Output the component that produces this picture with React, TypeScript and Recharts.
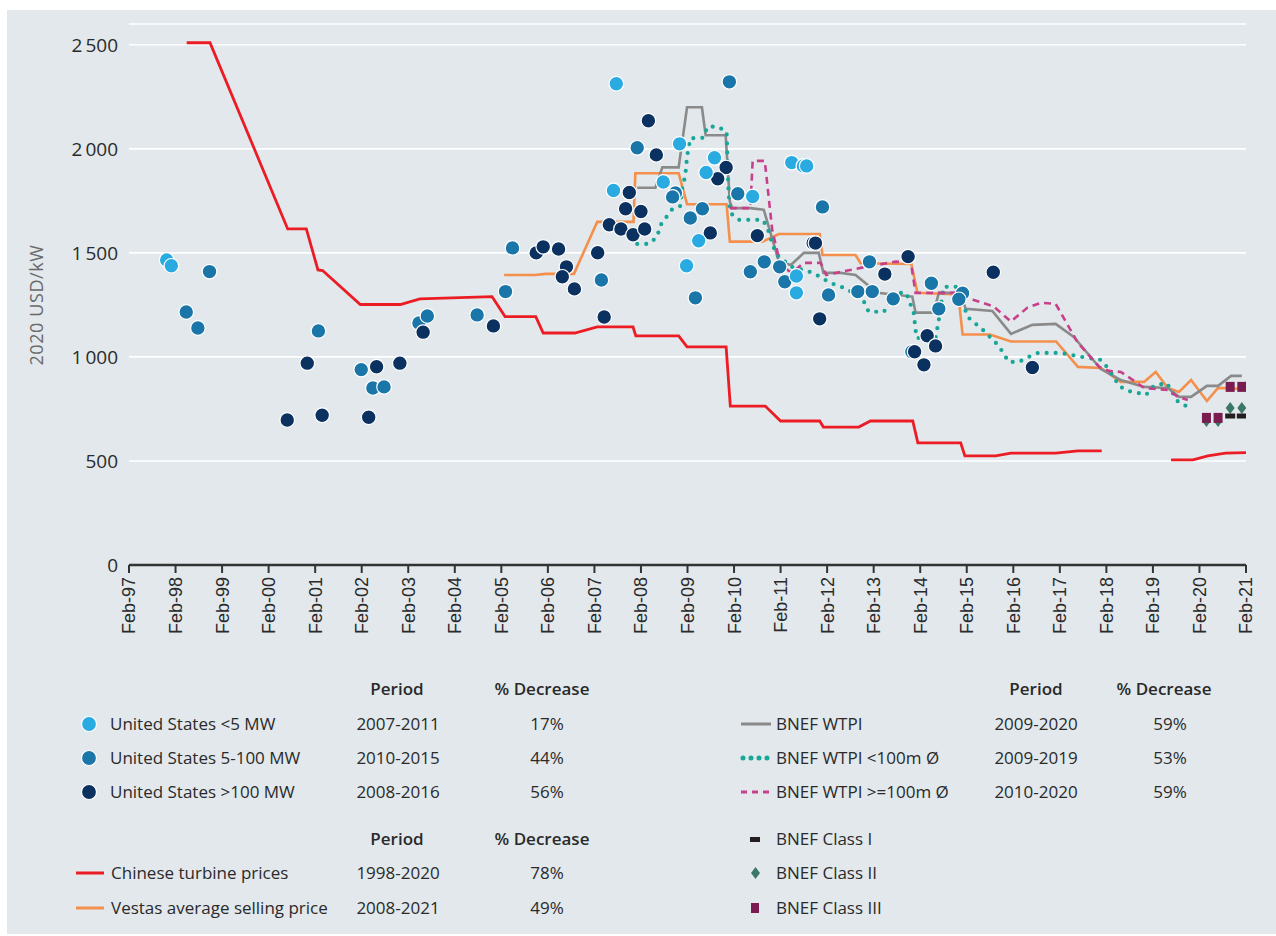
import { CartesianGrid, ComposedChart, Line, Scatter, XAxis, YAxis } from "recharts";

// x = year (Feb of that year = whole number), y = 2020 USD/kW
const yearTicks = [
  1997, 1998, 1999, 2000, 2001, 2002, 2003, 2004, 2005, 2006, 2007, 2008,
  2009, 2010, 2011, 2012, 2013, 2014, 2015, 2016, 2017, 2018, 2019, 2020, 2021,
];
const valueTicks = [0, 500, 1000, 1500, 2000, 2500];

const chinesePrices = [
  { x: 1998.24, y: 2510 }, { x: 1998.74, y: 2510 }, { x: 2000.41, y: 1615 },
  { x: 2000.81, y: 1615 }, { x: 2001.06, y: 1418 }, { x: 2001.16, y: 1415 },
  { x: 2001.97, y: 1252 }, { x: 2002.83, y: 1252 }, { x: 2003.25, y: 1279 },
  { x: 2004.8, y: 1290 }, { x: 2005.08, y: 1194 }, { x: 2005.74, y: 1194 },
  { x: 2005.9, y: 1115 }, { x: 2006.58, y: 1115 }, { x: 2007.06, y: 1144 },
  { x: 2007.83, y: 1144 }, { x: 2007.89, y: 1101 }, { x: 2008.81, y: 1101 },
  { x: 2008.99, y: 1048 }, { x: 2009.83, y: 1048 }, { x: 2009.92, y: 764 },
  { x: 2010.67, y: 764 }, { x: 2011.0, y: 692 }, { x: 2011.84, y: 692 },
  { x: 2011.92, y: 663 }, { x: 2012.68, y: 663 }, { x: 2012.93, y: 692 },
  { x: 2013.84, y: 692 }, { x: 2013.95, y: 587 }, { x: 2014.87, y: 587 },
  { x: 2014.96, y: 524 }, { x: 2015.62, y: 524 }, { x: 2015.95, y: 538 },
  { x: 2016.91, y: 538 }, { x: 2017.39, y: 548 }, { x: 2017.9, y: 548 },
  { x: 2018.6, y: null }, { x: 2019.39, y: 505 }, { x: 2019.86, y: 505 },
  { x: 2020.18, y: 524 }, { x: 2020.56, y: 538 }, { x: 2021.0, y: 540 },
];

const vestasPrices = [
  { x: 2005.06, y: 1394 }, { x: 2005.72, y: 1394 }, { x: 2005.95, y: 1399 },
  { x: 2006.56, y: 1399 }, { x: 2007.06, y: 1649 }, { x: 2007.84, y: 1649 },
  { x: 2007.88, y: 1883 }, { x: 2008.81, y: 1883 }, { x: 2008.99, y: 1734 },
  { x: 2009.84, y: 1734 }, { x: 2009.91, y: 1554 }, { x: 2010.61, y: 1554 },
  { x: 2010.96, y: 1591 }, { x: 2011.84, y: 1591 }, { x: 2011.9, y: 1490 },
  { x: 2012.61, y: 1490 }, { x: 2012.72, y: 1450 }, { x: 2013.81, y: 1447 },
  { x: 2013.94, y: 1308 }, { x: 2014.82, y: 1300 }, { x: 2014.91, y: 1108 },
  { x: 2015.5, y: 1108 }, { x: 2015.95, y: 1074 }, { x: 2016.92, y: 1074 },
  { x: 2017.39, y: 952 }, { x: 2017.88, y: 947 }, { x: 2018.31, y: 880 },
  { x: 2018.81, y: 880 }, { x: 2019.06, y: 928 }, { x: 2019.32, y: 851 },
  { x: 2019.56, y: 832 }, { x: 2019.82, y: 889 }, { x: 2020.16, y: 788 },
  { x: 2020.4, y: 851 }, { x: 2020.96, y: 846 }, { x: 2021.15, y: 962 },
];

const wtpi = [
  { x: 2007.92, y: 1813 }, { x: 2008.31, y: 1813 }, { x: 2008.46, y: 1911 },
  { x: 2008.81, y: 1911 }, { x: 2008.99, y: 2200 }, { x: 2009.31, y: 2200 },
  { x: 2009.39, y: 2065 }, { x: 2009.82, y: 2065 }, { x: 2009.91, y: 1746 },
  { x: 2009.96, y: 1715 }, { x: 2010.35, y: 1715 }, { x: 2010.64, y: 1707 },
  { x: 2010.89, y: 1514 }, { x: 2010.96, y: 1458 }, { x: 2011.22, y: 1442 },
  { x: 2011.5, y: 1500 }, { x: 2011.82, y: 1500 }, { x: 2011.92, y: 1404 },
  { x: 2012.29, y: 1404 }, { x: 2012.61, y: 1394 }, { x: 2013.08, y: 1308 },
  { x: 2013.83, y: 1290 }, { x: 2013.9, y: 1213 }, { x: 2014.29, y: 1213 },
  { x: 2014.4, y: 1308 }, { x: 2014.85, y: 1308 }, { x: 2014.98, y: 1231 },
  { x: 2015.55, y: 1221 }, { x: 2015.95, y: 1111 }, { x: 2016.41, y: 1154 },
  { x: 2016.91, y: 1159 }, { x: 2017.3, y: 1096 }, { x: 2017.88, y: 942 },
  { x: 2018.31, y: 889 }, { x: 2018.81, y: 856 }, { x: 2019.32, y: 851 },
  { x: 2019.56, y: 808 }, { x: 2019.82, y: 808 }, { x: 2020.16, y: 861 },
  { x: 2020.4, y: 861 }, { x: 2020.68, y: 909 }, { x: 2020.91, y: 909 },
];

const wtpiSmall = [
  { x: 2007.92, y: 1543 }, { x: 2008.17, y: 1543 }, { x: 2008.35, y: 1577 },
  { x: 2008.41, y: 1630 }, { x: 2008.66, y: 1707 }, { x: 2008.85, y: 1726 },
  { x: 2008.89, y: 1822 }, { x: 2008.95, y: 1865 }, { x: 2008.99, y: 1962 },
  { x: 2009.06, y: 2051 }, { x: 2009.34, y: 2053 }, { x: 2009.43, y: 2106 },
  { x: 2009.64, y: 2107 }, { x: 2009.84, y: 2083 }, { x: 2009.88, y: 1803 },
  { x: 2009.92, y: 1692 }, { x: 2010.1, y: 1659 }, { x: 2010.61, y: 1659 },
  { x: 2010.71, y: 1627 }, { x: 2010.84, y: 1530 }, { x: 2010.96, y: 1481 },
  { x: 2011.24, y: 1433 }, { x: 2011.7, y: 1404 }, { x: 2012.07, y: 1356 },
  { x: 2012.29, y: 1338 }, { x: 2012.46, y: 1322 }, { x: 2012.79, y: 1266 },
  { x: 2012.89, y: 1218 }, { x: 2013.22, y: 1216 }, { x: 2013.45, y: 1308 },
  { x: 2013.7, y: 1308 }, { x: 2013.86, y: 1212 }, { x: 2013.92, y: 1091 },
  { x: 2014.33, y: 1091 }, { x: 2014.4, y: 1178 }, { x: 2014.5, y: 1337 },
  { x: 2014.8, y: 1337 }, { x: 2015.02, y: 1192 }, { x: 2015.37, y: 1125 },
  { x: 2015.69, y: 1053 }, { x: 2015.9, y: 976 }, { x: 2016.12, y: 976 },
  { x: 2016.33, y: 1000 }, { x: 2016.53, y: 1019 }, { x: 2017.02, y: 1019 },
  { x: 2017.47, y: 1000 }, { x: 2017.88, y: 986 }, { x: 2018.03, y: 947 },
  { x: 2018.16, y: 904 }, { x: 2018.27, y: 861 }, { x: 2018.46, y: 837 },
  { x: 2018.68, y: 827 }, { x: 2018.85, y: 817 }, { x: 2019.02, y: 861 },
  { x: 2019.3, y: 875 }, { x: 2019.41, y: 832 }, { x: 2019.54, y: 784 },
  { x: 2019.75, y: 760 },
];

const wtpiLarge = [
  { x: 2009.91, y: 1715 }, { x: 2010.35, y: 1715 }, { x: 2010.4, y: 1942 },
  { x: 2010.66, y: 1942 }, { x: 2010.82, y: 1611 }, { x: 2011.0, y: 1440 },
  { x: 2011.24, y: 1404 }, { x: 2011.5, y: 1452 }, { x: 2011.86, y: 1452 },
  { x: 2011.98, y: 1394 }, { x: 2012.72, y: 1428 }, { x: 2013.47, y: 1458 },
  { x: 2013.8, y: 1453 }, { x: 2013.9, y: 1308 }, { x: 2014.8, y: 1308 },
  { x: 2015.15, y: 1274 }, { x: 2015.58, y: 1242 }, { x: 2015.95, y: 1170 },
  { x: 2016.3, y: 1236 }, { x: 2016.59, y: 1260 }, { x: 2016.91, y: 1255 },
  { x: 2017.39, y: 1067 }, { x: 2017.85, y: 952 }, { x: 2018.05, y: 933 },
  { x: 2018.31, y: 928 }, { x: 2018.57, y: 889 }, { x: 2018.81, y: 851 },
  { x: 2019.32, y: 841 }, { x: 2019.54, y: 808 }, { x: 2019.75, y: 793 },
];

const usSmall = [
  { x: 1997.81, y: 1466 }, { x: 1997.91, y: 1438 }, { x: 2007.47, y: 2313 },
  { x: 2007.41, y: 1800 }, { x: 2008.48, y: 1841 }, { x: 2008.83, y: 2024 },
  { x: 2008.98, y: 1438 }, { x: 2009.24, y: 1558 }, { x: 2009.4, y: 1886 },
  { x: 2009.58, y: 1957 }, { x: 2010.4, y: 1771 }, { x: 2011.24, y: 1934 },
  { x: 2011.34, y: 1389 }, { x: 2011.34, y: 1308 }, { x: 2011.49, y: 1918 },
  { x: 2011.56, y: 1918 },
];

const usMedium = [
  { x: 1998.73, y: 1410 }, { x: 1998.23, y: 1216 }, { x: 1998.48, y: 1139 },
  { x: 2001.07, y: 1125 }, { x: 2001.99, y: 939 }, { x: 2002.24, y: 851 },
  { x: 2002.48, y: 856 }, { x: 2003.23, y: 1163 }, { x: 2003.41, y: 1197 },
  { x: 2004.48, y: 1202 }, { x: 2005.09, y: 1314 }, { x: 2005.24, y: 1524 },
  { x: 2007.15, y: 1370 }, { x: 2007.92, y: 2005 }, { x: 2008.74, y: 1788 },
  { x: 2008.68, y: 1769 }, { x: 2009.06, y: 1668 }, { x: 2009.32, y: 1712 },
  { x: 2009.17, y: 1284 }, { x: 2009.9, y: 2322 }, { x: 2010.08, y: 1784 },
  { x: 2010.35, y: 1409 }, { x: 2010.65, y: 1457 }, { x: 2010.98, y: 1433 },
  { x: 2011.09, y: 1361 }, { x: 2011.9, y: 1721 }, { x: 2012.03, y: 1298 },
  { x: 2012.91, y: 1457 }, { x: 2012.66, y: 1314 }, { x: 2012.97, y: 1314 },
  { x: 2013.42, y: 1279 }, { x: 2014.24, y: 1354 }, { x: 2014.4, y: 1231 },
  { x: 2014.91, y: 1306 }, { x: 2014.83, y: 1277 }, { x: 2013.82, y: 1025 },
];

const usLarge = [
  { x: 2000.4, y: 697 }, { x: 2000.83, y: 970 }, { x: 2001.15, y: 720 },
  { x: 2002.15, y: 710 }, { x: 2002.32, y: 953 }, { x: 2002.82, y: 970 },
  { x: 2003.32, y: 1119 }, { x: 2004.83, y: 1149 }, { x: 2005.75, y: 1500 },
  { x: 2005.9, y: 1529 }, { x: 2006.23, y: 1519 }, { x: 2006.4, y: 1433 },
  { x: 2006.31, y: 1385 }, { x: 2006.57, y: 1327 }, { x: 2007.07, y: 1501 },
  { x: 2007.21, y: 1192 }, { x: 2007.32, y: 1635 }, { x: 2007.57, y: 1615 },
  { x: 2007.67, y: 1712 }, { x: 2007.75, y: 1790 }, { x: 2007.83, y: 1587 },
  { x: 2008.0, y: 1699 }, { x: 2008.08, y: 1615 }, { x: 2008.16, y: 2135 },
  { x: 2008.33, y: 1971 }, { x: 2009.49, y: 1596 }, { x: 2009.83, y: 1910 },
  { x: 2009.65, y: 1856 }, { x: 2010.5, y: 1583 }, { x: 2011.7, y: 1547 },
  { x: 2011.75, y: 1547 }, { x: 2011.84, y: 1183 }, { x: 2013.24, y: 1398 },
  { x: 2013.74, y: 1482 }, { x: 2015.57, y: 1407 }, { x: 2016.41, y: 949 },
  { x: 2014.15, y: 1102 }, { x: 2014.33, y: 1053 }, { x: 2013.88, y: 1025 },
  { x: 2014.08, y: 962 },
];

const classOne = [{ x: 2020.66, y: 716 }, { x: 2020.91, y: 716 }];
const classTwo = [
  { x: 2020.15, y: 692 }, { x: 2020.4, y: 692 },
  { x: 2020.66, y: 755 }, { x: 2020.91, y: 755 },
];
const classThree = [
  { x: 2020.15, y: 707 }, { x: 2020.4, y: 707 },
  { x: 2020.66, y: 856 }, { x: 2020.91, y: 856 },
];

const usLegend = [
  { name: "United States <5 MW", period: "2007-2011", decrease: "17%", color: "#29abe2" },
  { name: "United States 5-100 MW", period: "2010-2015", decrease: "44%", color: "#1a75a8" },
  { name: "United States >100 MW", period: "2008-2016", decrease: "56%", color: "#0a3160" },
];
const priceLegend = [
  { name: "Chinese turbine prices", period: "1998-2020", decrease: "78%", color: "#ec1c24" },
  { name: "Vestas average selling price", period: "2008-2021", decrease: "49%", color: "#f4904c" },
];
const bnefLegend = [
  { name: "BNEF WTPI", period: "2009-2020", decrease: "59%", color: "#8a8a8a", dash: "" },
  { name: "BNEF WTPI <100m Ø", period: "2009-2019", decrease: "53%", color: "#17a697", dash: "0 8" },
  { name: "BNEF WTPI >=100m Ø", period: "2010-2020", decrease: "59%", color: "#c8408a", dash: "6 5" },
];
const classLegend = ["BNEF Class I", "BNEF Class II", "BNEF Class III"];

const FONT = "'Open Sans', sans-serif";
const TEXT = "#2a2a2a";

const fmtYear = (v: number) => "Feb-" + String(v).slice(2);
const fmtValue = (v: number) =>
  v >= 1000 ? `${Math.floor(v / 1000)}\u2009${String(v % 1000).padStart(3, "0")}` : String(v);

const XTick = (props: any) => {
  const { x, y, payload } = props;
  return (
    <text
      x={x}
      y={y}
      transform={`rotate(-90 ${x} ${y})`}
      textAnchor="end"
      dy="0.36em"
      fontSize={18}
      fontFamily="'Liberation Sans', Arial, sans-serif"
      fill={TEXT}
    >
      {fmtYear(payload.value)}
    </text>
  );
};

const dot = (color: string) => (props: any) => (
  <circle cx={props.cx} cy={props.cy} r={7.3} fill={color} stroke="#fff" strokeWidth={1.2} />
);
const dashMark = (props: any) => (
  <rect x={props.cx - 5} y={props.cy - 2.5} width={10} height={5} fill="#231f20" />
);
const diamondMark = (props: any) => (
  <polygon
    points={`${props.cx},${props.cy - 6} ${props.cx + 4.5},${props.cy} ${props.cx},${props.cy + 6} ${props.cx - 4.5},${props.cy}`}
    fill="#3b7866"
  />
);
const squareMark = (props: any) => (
  <rect x={props.cx - 4.5} y={props.cy - 5} width={9} height={10} fill="#7a1c50" />
);

const Cell = ({ x, y, w, children, bold, align }: any) => (
  <div
    style={{
      position: "absolute",
      left: align === "center" ? x - w / 2 : x,
      top: y - 12,
      width: w,
      lineHeight: "24px",
      textAlign: align || "left",
      fontSize: 17,
      fontWeight: bold ? 600 : 400,
      whiteSpace: "nowrap",
      color: TEXT,
    }}
  >
    {children}
  </div>
);

const Marker = ({ x, y, w, h, children }: any) => (
  <svg
    width={w}
    height={h}
    style={{ position: "absolute", left: x - w / 2, top: y - h / 2, overflow: "visible" }}
  >
    {children}
  </svg>
);

export default function App() {
  const rowY = [724, 758, 792];
  const rowY2 = [873, 908];
  const classY = [839, 873, 908];
  return (
    <div
      style={{
        position: "absolute",
        left: 0,
        top: 0,
        width: 1276,
        height: 936,
        background: "#fff",
        overflow: "hidden",
        fontFamily: FONT,
      }}
    >
      <div style={{ position: "absolute", left: 7, top: 10, right: 0, bottom: 2, background: "#e2e8ec" }} />
      <div style={{ position: "absolute", left: 0, top: 0 }}>
        <ComposedChart width={1276} height={660} margin={{ top: 24, right: 30, bottom: 0, left: 0 }}>
          <CartesianGrid horizontal vertical={false} stroke="#fff" strokeWidth={1.6} />
          <XAxis
            type="number"
            dataKey="x"
            domain={[1997, 2021]}
            allowDataOverflow
            ticks={yearTicks}
            interval={0}
            height={95}
            tickSize={8}
            tickMargin={4}
            axisLine={{ stroke: "#333", strokeWidth: 2.5 }}
            tickLine={{ stroke: "#333", strokeWidth: 2 }}
            tick={<XTick />}
          />
          <YAxis
            type="number"
            dataKey="y"
            domain={[0, 2600]}
            ticks={valueTicks}
            interval={0}
            width={129}
            axisLine={false}
            tickLine={false}
            tickMargin={5}
            tickFormatter={fmtValue}
            tick={{ fontSize: 19, fill: TEXT, fontFamily: FONT }}
          />
          <Line data={chinesePrices} dataKey="y" type="linear" stroke="#ec1c24" strokeWidth={2.8} dot={false} connectNulls={false} isAnimationActive={false} />
          <Line data={vestasPrices} dataKey="y" type="linear" stroke="#f4904c" strokeWidth={2.6} dot={false} isAnimationActive={false} />
          <Line data={wtpi} dataKey="y" type="linear" stroke="#8a8a8a" strokeWidth={2.6} dot={false} isAnimationActive={false} />
          <Line data={wtpiSmall} dataKey="y" type="linear" stroke="#17a697" strokeWidth={4.2} strokeDasharray="0 9" strokeLinecap="round" dot={false} isAnimationActive={false} />
          <Line data={wtpiLarge} dataKey="y" type="linear" stroke="#c8408a" strokeWidth={2.6} strokeDasharray="7 5" dot={false} isAnimationActive={false} />
          <Scatter data={usMedium} dataKey="y" shape={dot("#1a75a8")} isAnimationActive={false} />
          <Scatter data={usLarge} dataKey="y" shape={dot("#0a3160")} isAnimationActive={false} />
          <Scatter data={usSmall} dataKey="y" shape={dot("#29abe2")} isAnimationActive={false} />
          <Scatter data={classTwo} dataKey="y" shape={diamondMark} isAnimationActive={false} />
          <Scatter data={classOne} dataKey="y" shape={dashMark} isAnimationActive={false} />
          <Scatter data={classThree} dataKey="y" shape={squareMark} isAnimationActive={false} />
        </ComposedChart>
      </div>

      <div
        style={{
          position: "absolute",
          left: 36,
          top: 305,
          transform: "translate(-50%, -50%) rotate(-90deg)",
          whiteSpace: "nowrap",
          fontSize: 18,
          letterSpacing: 0.6,
          color: "#6a6a6a",
        }}
      >
        2020 USD/kW
      </div>

      {/* left legend: US installed prices */}
      <Cell x={397} y={689} w={160} align="center" bold>Period</Cell>
      <Cell x={542} y={689} w={160} align="center" bold>% Decrease</Cell>
      {usLegend.map((r, i) => (
        <div key={r.name}>
          <Marker x={89} y={rowY[i]} w={18} h={18}>
            <circle cx={9} cy={9} r={7.5} fill={r.color} stroke="#fff" strokeWidth={1.2} />
          </Marker>
          <Cell x={110} y={rowY[i]} w={240}>{r.name}</Cell>
          <Cell x={398} y={rowY[i]} w={160} align="center">{r.period}</Cell>
          <Cell x={547} y={rowY[i]} w={160} align="center">{r.decrease}</Cell>
        </div>
      ))}
      <Cell x={397} y={839} w={160} align="center" bold>Period</Cell>
      <Cell x={542} y={839} w={160} align="center" bold>% Decrease</Cell>
      {priceLegend.map((r, i) => (
        <div key={r.name}>
          <Marker x={90} y={rowY2[i]} w={28} h={6}>
            <line x1={0} y1={3} x2={28} y2={3} stroke={r.color} strokeWidth={3} />
          </Marker>
          <Cell x={111} y={rowY2[i]} w={260}>{r.name}</Cell>
          <Cell x={398} y={rowY2[i]} w={160} align="center">{r.period}</Cell>
          <Cell x={547} y={rowY2[i]} w={160} align="center">{r.decrease}</Cell>
        </div>
      ))}

      {/* right legend: BNEF */}
      <Cell x={1036} y={689} w={160} align="center" bold>Period</Cell>
      <Cell x={1164} y={689} w={160} align="center" bold>% Decrease</Cell>
      {bnefLegend.map((r, i) => (
        <div key={r.name}>
          <Marker x={756} y={rowY[i]} w={30} h={8}>
            <line
              x1={r.dash === "0 8" ? 2 : 0}
              y1={4}
              x2={30}
              y2={4}
              stroke={r.color}
              strokeWidth={r.dash === "0 8" ? 5 : 3}
              strokeDasharray={r.dash || undefined}
              strokeLinecap={r.dash === "0 8" ? "round" : "butt"}
            />
          </Marker>
          <Cell x={776} y={rowY[i]} w={220}>{r.name}</Cell>
          <Cell x={1036} y={rowY[i]} w={160} align="center">{r.period}</Cell>
          <Cell x={1170} y={rowY[i]} w={160} align="center">{r.decrease}</Cell>
        </div>
      ))}
      <Marker x={755} y={classY[0]} w={10} h={5}>
        <rect x={0} y={0} width={10} height={5} fill="#231f20" />
      </Marker>
      <Marker x={755} y={classY[1]} w={9} h={12}>
        <polygon points="4.5,0 9,6 4.5,12 0,6" fill="#3b7866" />
      </Marker>
      <Marker x={755} y={classY[2]} w={8} h={10}>
        <rect x={0} y={0} width={8} height={10} fill="#7a1c50" />
      </Marker>
      {classLegend.map((name, i) => (
        <Cell key={name} x={776} y={classY[i]} w={200}>{name}</Cell>
      ))}
    </div>
  );
}
